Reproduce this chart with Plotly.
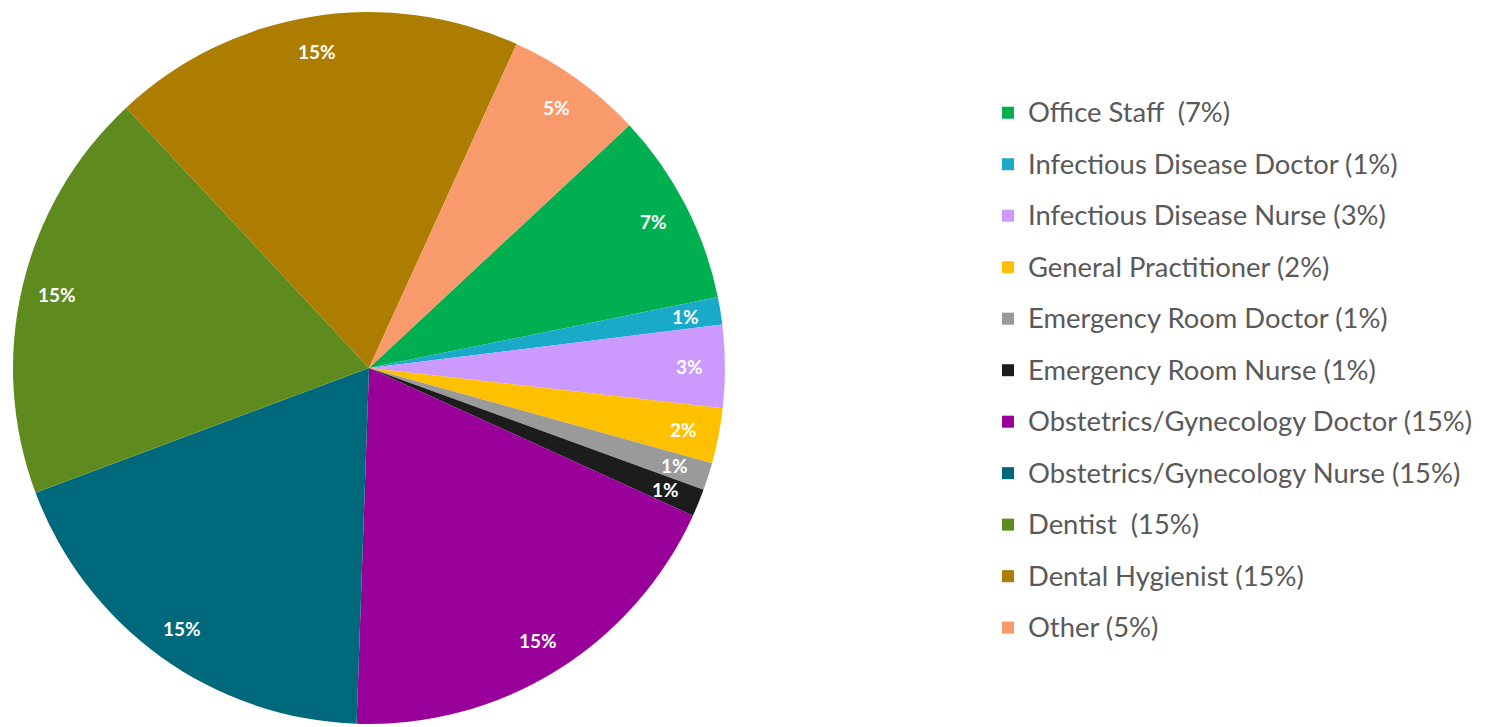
import math
import plotly.graph_objects as go

# Survey respondents by role (percent of respondents)
categories = [
    "Office Staff  ",
    "Infectious Disease Doctor ",
    "Infectious Disease Nurse ",
    "General Practitioner ",
    "Emergency Room Doctor ",
    "Emergency Room Nurse ",
    "Obstetrics/Gynecology Doctor ",
    "Obstetrics/Gynecology Nurse ",
    "Dentist  ",
    "Dental Hygienist ",
    "Other ",
]
values = [7, 1, 3, 2, 1, 1, 15, 15, 15, 15, 5]
colors = [
    "#00b050", "#19a9c9", "#cc99ff", "#ffc000", "#9a9a9a", "#1c1c1c",
    "#990099", "#00687b", "#5f8a1e", "#ac7d00", "#f99a6c",
]

W, H = 1487, 727
CX, CY, R = 369, 368, 356
ROTATION = 47

legend_labels = [
    '<span style="font-size:27.4px;baseline-shift:5.5px">'
    + (name.replace("  ", "\u00a0 ")).rstrip() + ("\u00a0" if name.endswith("  ") else "")
    + f" ({v}%)</span>"
    for name, v in zip(categories, values)
]

fig = go.Figure(
    go.Pie(
        labels=legend_labels,
        values=values,
        sort=False,
        direction="clockwise",
        rotation=ROTATION,
        marker=dict(colors=colors, line=dict(width=0)),
        textinfo="none",
        hoverinfo="label+value",
        domain=dict(x=[(CX - R) / W, (CX + R) / W],
                    y=[(H - (CY + R)) / H, (H - (CY - R)) / H]),
    )
)

# value labels placed near the outer edge of each slice
total = sum(values)
start = ROTATION
annotations = []
for v in values:
    span = v / total * 360
    mid = math.radians(start + span / 2)
    start += span
    px = CX + 0.9 * R * math.sin(mid)
    py = CY - 0.9 * R * math.cos(mid)
    annotations.append(dict(
        x=px / W, y=1 - py / H, xref="paper", yref="paper",
        text=f"{v}%", showarrow=False,
        font=dict(family="Lato", size=19, color="white", weight="bold"),
        xanchor="center", yanchor="middle",
    ))

fig.update_layout(
    width=W, height=H,
    margin=dict(l=0, r=0, t=0, b=0),
    paper_bgcolor="white",
    plot_bgcolor="white",
    annotations=annotations,
    showlegend=True,
    legend=dict(
        x=988 / W, xanchor="left",
        y=1 - 82 / H, yanchor="top",
        font=dict(family="Lato", size=37.3, color="#595959"),
        bgcolor="rgba(0,0,0,0)",
    ),
)

fig.write_html("out.html")
